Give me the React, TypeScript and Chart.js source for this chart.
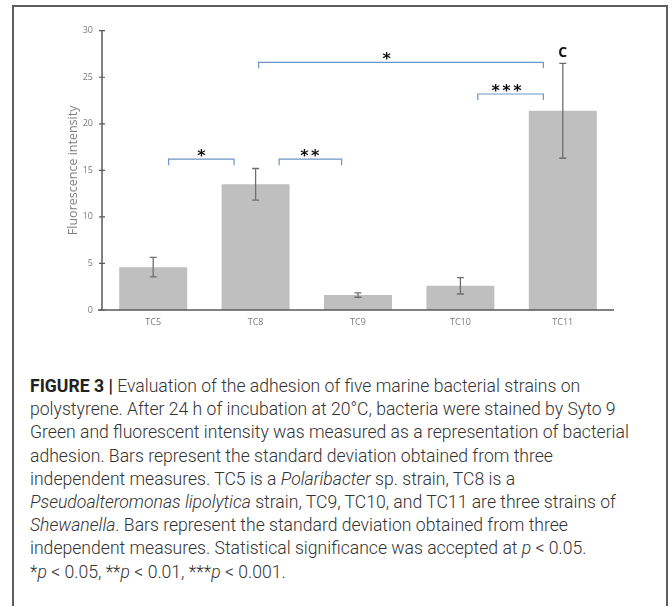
import React, { useEffect, useRef } from "react";
import { Chart, registerables } from "chart.js";

Chart.register(...registerables);

const categories = ["TC5", "TC8", "TC9", "TC10", "TC11"];
const meanValues = [4.6, 13.5, 1.6, 2.6, 21.4];
const sdValues = [1.05, 1.7, 0.23, 0.88, 5.1];
const groupLetters = ["", "", "", "", "C"];

// significance brackets, in category-index units (x) and value units (y)
const bracketFrom = [0.15, 1.23, 1.03, 3.17];
const bracketTo = [0.79, 1.84, 3.81, 3.81];
const bracketLevel = [16.2, 16.2, 26.6, 23.2];
const bracketLabelAt = [0.47, 1.53, 2.28, 3.45];
const bracketLabels = ["*", "**", "*", "***"];

const yMin = 0;
const yMax = 30;
const yStep = 5;

const annotationPlugin = {
  id: "annotations",
  afterDatasetsDraw(chart: any) {
    const { ctx, chartArea, scales } = chart;
    const xs = scales.x;
    const ys = scales.y;
    const step = xs.getPixelForValue(1) - xs.getPixelForValue(0);
    const xAt = (idx: number) => xs.getPixelForValue(0) + idx * step;
    ctx.save();
    // axes
    ctx.strokeStyle = "#5a5a5a";
    ctx.lineWidth = 1.5;
    ctx.beginPath();
    ctx.moveTo(chartArea.left, chartArea.top);
    ctx.lineTo(chartArea.left, chartArea.bottom);
    ctx.moveTo(chartArea.left - 4, chartArea.bottom);
    ctx.lineTo(chartArea.right, chartArea.bottom);
    ctx.stroke();
    ctx.lineWidth = 1.2;
    ctx.beginPath();
    for (let v = yMin; v <= yMax; v += yStep) {
      const y = ys.getPixelForValue(v);
      ctx.moveTo(chartArea.left - 3, y);
      ctx.lineTo(chartArea.left + 3, y);
    }
    ctx.stroke();

    // error bars
    ctx.strokeStyle = "#6e6e6e";
    ctx.lineWidth = 1.3;
    meanValues.forEach((m, i) => {
      const x = xs.getPixelForValue(i);
      const yT = ys.getPixelForValue(m + sdValues[i]);
      const yB = ys.getPixelForValue(m - sdValues[i]);
      ctx.beginPath();
      ctx.moveTo(x, yT);
      ctx.lineTo(x, yB);
      ctx.moveTo(x - 3.5, yT);
      ctx.lineTo(x + 3.5, yT);
      ctx.moveTo(x - 3.5, yB);
      ctx.lineTo(x + 3.5, yB);
      ctx.stroke();
    });

    // group letters
    ctx.fillStyle = "#111";
    ctx.font = "bold 14px 'Open Sans'";
    ctx.textAlign = "center";
    ctx.textBaseline = "middle";
    groupLetters.forEach((l, i) => {
      if (!l) return;
      const x = xs.getPixelForValue(i);
      const y = ys.getPixelForValue(meanValues[i] + sdValues[i]);
      ctx.fillText(l, x, y - 10);
    });

    // brackets
    ctx.strokeStyle = "#6f93c8";
    ctx.lineWidth = 1.2;
    bracketFrom.forEach((from, k) => {
      const x1 = xAt(from);
      const x2 = xAt(bracketTo[k]);
      const y = ys.getPixelForValue(bracketLevel[k]);
      ctx.beginPath();
      ctx.moveTo(x1, y + 6);
      ctx.lineTo(x1, y);
      ctx.lineTo(x2, y);
      ctx.lineTo(x2, y + 6);
      ctx.stroke();
      ctx.fillStyle = "#111";
      ctx.font = "bold 16px 'DejaVu Sans'";
      (ctx as any).letterSpacing = "2.5px";
      ctx.textAlign = "center";
      ctx.textBaseline = "alphabetic";
      const lx = xAt(bracketLabelAt[k]);
      ctx.fillText(bracketLabels[k], lx + 1.25, y + 2);
      (ctx as any).letterSpacing = "0px";
    });
    ctx.restore();
  },
};

function BarChart() {
  const ref = useRef<HTMLCanvasElement>(null);
  useEffect(() => {
    if (!ref.current) return;
    const chart = new Chart(ref.current, {
      type: "bar",
      data: {
        labels: categories,
        datasets: [
          {
            data: meanValues,
            backgroundColor: "#bfbfbf",
            borderWidth: 0,
            barPercentage: 0.664,
            categoryPercentage: 1,
          },
        ],
      },
      options: {
        animation: false,
        responsive: false,
        maintainAspectRatio: false,
        layout: { padding: { top: 30.7, right: 58, bottom: 0, left: 0 } },
        plugins: { legend: { display: false }, tooltip: { enabled: false } },
        scales: {
          x: {
            grid: { display: false, drawTicks: false },
            border: { display: false },
            ticks: { color: "#7a7a7a", font: { family: "'Open Sans'", size: 9 }, padding: 7 },
            afterFit: (s: any) => {
              s.height = 35;
            },
          },
          y: {
            min: yMin,
            max: yMax,
            grid: { display: false, drawTicks: false },
            border: { display: false },
            ticks: {
              stepSize: yStep,
              color: "#7a7a7a",
              font: { family: "'Open Sans'", size: 9 },
              padding: 9,
            },
            title: {
              display: true,
              text: "Fluorescence intensity",
              color: "#808080",
              font: { family: "'Open Sans'", size: 12.5 },
              padding: { top: 66, bottom: 0 },
            },
            afterFit: (s: any) => {
              s.width = 102;
            },
          },
        },
      },
      plugins: [annotationPlugin],
    });
    return () => chart.destroy();
  }, []);
  return <canvas ref={ref} width={672} height={345} style={{ position: "absolute", left: 0, top: 0, width: 672, height: 345 }} />;
}

export default function App() {
  const capStyle: React.CSSProperties = {
    position: "absolute",
    left: 30,
    top: 375,
    fontFamily: "Roboto, 'Liberation Sans', sans-serif",
    fontWeight: 300,
    fontSize: 17.6,
    lineHeight: "23.2px",
    color: "#333",
    whiteSpace: "nowrap",
  };
  return (
    <div style={{ position: "absolute", left: 0, top: 0, width: 672, height: 606, overflow: "hidden", background: "#fff" }}>
      <div
        style={{
          position: "absolute",
          left: 12,
          top: 5,
          width: 652,
          height: 620,
          borderTop: "2px solid #5e5e5e",
          borderLeft: "2px solid #5e5e5e",
          borderRight: "2px solid #5e5e5e",
        }}
      />
      <BarChart />
      <div style={capStyle}>
        <b style={{ fontWeight: 700, color: "#222" }}>FIGURE 3 |</b> Evaluation of the adhesion of five marine bacterial strains on
        <br />
        polystyrene. After 24 h of incubation at 20°C, bacteria were stained by Syto 9
        <br />
        Green and fluorescent intensity was measured as a representation of bacterial
        <br />
        adhesion. Bars represent the standard deviation obtained from three
        <br />
        independent measures. TC5 is a <i>Polaribacter</i> sp. strain, TC8 is a
        <br />
        <i>Pseudoalteromonas lipolytica</i> strain, TC9, TC10, and TC11 are three strains of
        <br />
        <i>Shewanella</i>. Bars represent the standard deviation obtained from three
        <br />
        independent measures. Statistical significance was accepted at <i>p</i> &lt; 0.05.
        <br />
        *<i>p</i> &lt; 0.05, **<i>p</i> &lt; 0.01, ***<i>p</i> &lt; 0.001.
      </div>
    </div>
  );
}
